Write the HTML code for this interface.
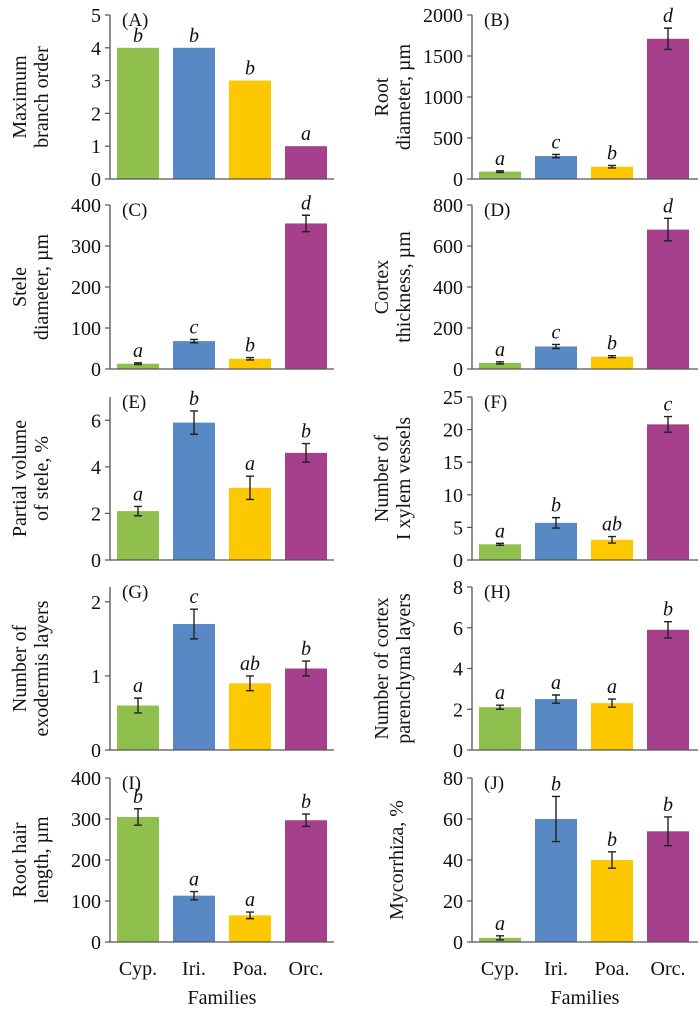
<!DOCTYPE html>
<html><head><meta charset="utf-8"><style>
body{margin:0;background:#fff}
svg{display:block;font-family:"Liberation Serif",serif}
</style></head><body>
<svg id="c" width="700" height="1009"></svg>
<script>
const categories=["Cyp.","Iri.","Poa.","Orc."];
const colors=["#8fbf4d","#5889c4","#fdc800","#a63f8c"];
const valsA=[4,4,3,1], errA=[0,0,0,0], letA=["b","b","b","a"];
const valsB=[90,280,150,1710], errB=[10,20,15,130], letB=["a","c","b","d"];
const valsC=[13,68,25,355], errC=[2,4,3,20], letC=["a","c","b","d"];
const valsD=[30,110,60,680], errD=[5,10,5,55], letD=["a","c","b","d"];
const valsE=[2.1,5.9,3.1,4.6], errE=[0.2,0.5,0.5,0.4], letE=["a","b","a","b"];
const valsF=[2.4,5.7,3.1,20.8], errF=[0.15,0.8,0.5,1.2], letF=["a","b","ab","c"];
const valsG=[0.6,1.7,0.9,1.1], errG=[0.1,0.2,0.1,0.1], letG=["a","c","ab","b"];
const valsH=[2.1,2.5,2.3,5.9], errH=[0.1,0.2,0.2,0.4], letH=["a","a","a","b"];
const valsI=[305,113,65,297], errI=[20,10,8,15], letI=["b","a","a","b"];
const valsJ=[2,60,40,54], errJ=[1,11,4,7], letJ=["a","b","b","b"];
const ticksA=[0,1,2,3,4,5], ticksB=[0,500,1000,1500,2000], ticksC=[0,100,200,300,400], ticksD=[0,200,400,600,800];
const ticksE=[0,2,4,6], ticksF=[0,5,10,15,20,25], ticksG=[0,1,2], ticksH=[0,2,4,6,8], ticksI=[0,100,200,300,400], ticksJ=[0,20,40,60,80];

const svg=document.getElementById('c');
const NS="http://www.w3.org/2000/svg";
function mk(tag,attrs,parent,text){const e=document.createElementNS(NS,tag);for(const k in attrs)e.setAttribute(k,attrs[k]);if(text!==undefined)e.textContent=text;(parent||svg).appendChild(e);return e;}

const panels=[
 {id:"A",col:0,row:0,max:5,ticks:ticksA,v:valsA,e:errA,l:letA,title:["Maximum","branch order"]},
 {id:"B",col:1,row:0,max:2000,ticks:ticksB,v:valsB,e:errB,l:letB,title:["Root","diameter, µm"]},
 {id:"C",col:0,row:1,max:400,ticks:ticksC,v:valsC,e:errC,l:letC,title:["Stele","diameter, µm"]},
 {id:"D",col:1,row:1,max:800,ticks:ticksD,v:valsD,e:errD,l:letD,title:["Cortex","thickness, µm"]},
 {id:"E",col:0,row:2,max:7,ticks:ticksE,v:valsE,e:errE,l:letE,title:["Partial volume","of stele, %"]},
 {id:"F",col:1,row:2,max:25,ticks:ticksF,v:valsF,e:errF,l:letF,title:["Number of","I xylem vessels"]},
 {id:"G",col:0,row:3,max:2.2,ticks:ticksG,v:valsG,e:errG,l:letG,title:["Number of","exodermis layers"]},
 {id:"H",col:1,row:3,max:8,ticks:ticksH,v:valsH,e:errH,l:letH,title:["Number of cortex","parenchyma layers"]},
 {id:"I",col:0,row:4,max:400,ticks:ticksI,v:valsI,e:errI,l:letI,title:["Root hair","length, µm"]},
 {id:"J",col:1,row:4,max:80,ticks:ticksJ,v:valsJ,e:errJ,l:letJ,title:["Mycorrhiza, %"]}
];
const tops=[15,205,397,587,778], bases=[179,369,560,750,942];
const axX=[110,472], axR=[334,698];

panels.forEach(p=>{
  const g=mk('g',{},svg);
  
  
  const x0=axX[p.col], x1=axR[p.col], top=tops[p.row], base=bases[p.row];
  const y=v=>base-(v/p.max)*(base-top);
  const bw=42, step=56, off=7;
  const bx=i=>x0+off+i*step;
  p.v.forEach((v,i)=>{
    const r=mk('rect',{x:bx(i),y:y(v),width:bw,height:base-y(v),fill:colors[i]},g);
    
    
    const cx=bx(i)+bw/2;
    let labY=y(v)-6;
    if(p.e[i]>0){
      const y1=y(v+p.e[i]), y2=y(v-p.e[i]);
      const eb=mk('path',{d:`M${cx},${y1}V${y2}M${cx-4},${y1}H${cx+4}M${cx-4},${y2}H${cx+4}`,stroke:"#222","stroke-width":1.4,fill:"none"},g);
      
      
      labY=y1-6;
    }
    const t=mk('text',{x:cx,y:labY,"text-anchor":"middle","font-size":20,"font-style":"italic",fill:"#111"},g,p.l[i]);
    
    
  });
  mk('path',{d:`M${x0},${top}V${base}H${x1}`,stroke:"#555","stroke-width":1.3,fill:"none"},g);
  p.ticks.forEach(tv=>{
    const ty=y(tv);
    mk('line',{x1:x0-5,x2:x0,y1:ty,y2:ty,stroke:"#555","stroke-width":1.2},g);
    const tl=mk('text',{x:x0-9,y:ty+7,"text-anchor":"end","font-size":20,fill:"#111"},g,String(tv));
    
    
  });
  const pl=mk('text',{x:x0+12,y:top+11,"font-size":19,fill:"#111"},g,"("+p.id+")");
  
  
  const cy=(top+base)/2;
  const tx=p.col===0?[19,41]:[381,403];
  const lines=p.title;
  lines.forEach((ln,k)=>{
    const xx=lines.length===1?(tx[0]+tx[1])/2+4:tx[k];
    const tt=mk('text',{x:xx,y:cy,"text-anchor":"middle","font-size":20,fill:"#111",transform:`rotate(-90 ${xx} ${cy})`,dy:"0.35em"},g,ln);
    
    
  });
  if(p.row===4){
    categories.forEach((c,i)=>{
      const cl=mk('text',{x:bx(i)+bw/2,y:975,"text-anchor":"middle","font-size":20,fill:"#111"},g,c);
      
      
    });
    const xt=mk('text',{x:(x0+x1)/2,y:1004,"text-anchor":"middle","font-size":20,fill:"#111"},g,"Families");
    
    
  }
});
</script>
</body></html>
